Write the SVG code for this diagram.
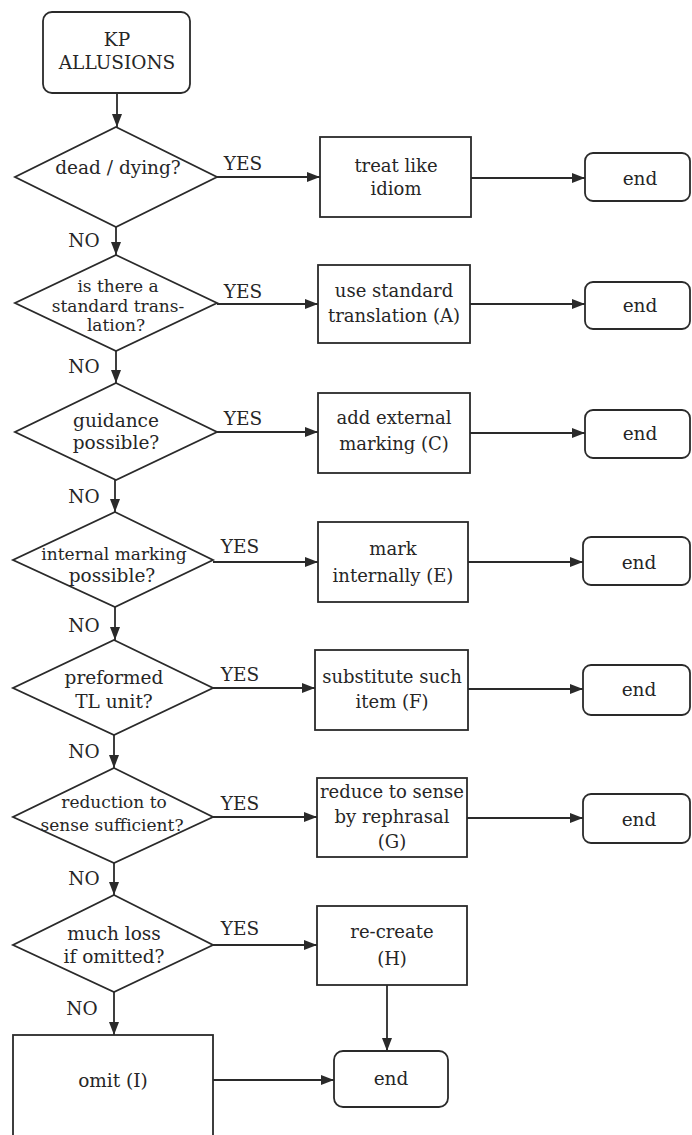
<svg xmlns="http://www.w3.org/2000/svg" width="692" height="1135" viewBox="0 0 692 1135">
<style>
.s{fill:#fff;stroke:#2a2a2a;stroke-width:1.8}
.c{fill:none;stroke:#2a2a2a;stroke-width:1.8}
text{font-family:"DejaVu Serif","Liberation Serif",serif;font-size:18.5px;fill:#262626;text-anchor:middle}
.sm{font-size:17px}
.bx{font-size:18px}
</style>
<defs>
<marker id="ah" markerUnits="userSpaceOnUse" markerWidth="13" markerHeight="10" refX="13" refY="5" orient="auto">
<path d="M0,0 L13,5 L0,10 z" fill="#2a2a2a"/>
</marker>
</defs>
<rect width="692" height="1135" fill="#fff"/>
<g id="connectors">
<line class="c" x1="117" y1="93" x2="117" y2="127" marker-end="url(#ah)"/>
<line class="c" x1="217" y1="177" x2="320" y2="177" marker-end="url(#ah)"/>
<line class="c" x1="471" y1="178" x2="585" y2="178" marker-end="url(#ah)"/>
<line class="c" x1="116" y1="227" x2="116" y2="255" marker-end="url(#ah)"/>
<line class="c" x1="217" y1="304" x2="318" y2="304" marker-end="url(#ah)"/>
<line class="c" x1="470" y1="304" x2="585" y2="304" marker-end="url(#ah)"/>
<line class="c" x1="116" y1="351" x2="116" y2="383" marker-end="url(#ah)"/>
<line class="c" x1="217" y1="432" x2="318" y2="432" marker-end="url(#ah)"/>
<line class="c" x1="470" y1="433" x2="585" y2="433" marker-end="url(#ah)"/>
<line class="c" x1="115" y1="480" x2="115" y2="512" marker-end="url(#ah)"/>
<line class="c" x1="213" y1="562" x2="318" y2="562" marker-end="url(#ah)"/>
<line class="c" x1="468" y1="562" x2="583" y2="562" marker-end="url(#ah)"/>
<line class="c" x1="115" y1="607" x2="115" y2="640" marker-end="url(#ah)"/>
<line class="c" x1="213" y1="688" x2="315" y2="688" marker-end="url(#ah)"/>
<line class="c" x1="468" y1="689" x2="583" y2="689" marker-end="url(#ah)"/>
<line class="c" x1="114" y1="735" x2="114" y2="768" marker-end="url(#ah)"/>
<line class="c" x1="213" y1="817" x2="317" y2="817" marker-end="url(#ah)"/>
<line class="c" x1="467" y1="818" x2="583" y2="818" marker-end="url(#ah)"/>
<line class="c" x1="114" y1="863" x2="114" y2="895" marker-end="url(#ah)"/>
<line class="c" x1="213" y1="945" x2="317" y2="945" marker-end="url(#ah)"/>
<line class="c" x1="387" y1="985" x2="387" y2="1051" marker-end="url(#ah)"/>
<line class="c" x1="114" y1="992" x2="114" y2="1035" marker-end="url(#ah)"/>
<line class="c" x1="213" y1="1080" x2="334" y2="1080" marker-end="url(#ah)"/>
<text x="243" y="170">YES</text>
<text x="84" y="247">NO</text>
<text x="243" y="298">YES</text>
<text x="84" y="373">NO</text>
<text x="243" y="425">YES</text>
<text x="84" y="503">NO</text>
<text x="240" y="553">YES</text>
<text x="84" y="632">NO</text>
<text x="240" y="681">YES</text>
<text x="84" y="758">NO</text>
<text x="240" y="810">YES</text>
<text x="84" y="885">NO</text>
<text x="240" y="935">YES</text>
<text x="82" y="1015">NO</text>
</g>
<g id="start">
<rect class="s" x="43" y="12" width="147" height="81" rx="9"/>
<text x="117" y="46">KP</text>
<text x="117" y="69">ALLUSIONS</text>
</g>
<g id="d1">
<polygon class="s" points="116,127 217,177 116,227 15,177"/>
<text x="118" y="174">dead / dying?</text>
</g>
<g id="d2">
<polygon class="s" points="116,255 217,303 116,351 15,303"/>
<text class="sm" x="118" y="292">is there a</text>
<text class="sm" x="118" y="312">standard trans-</text>
<text class="sm" x="116" y="331">lation?</text>
</g>
<g id="d3">
<polygon class="s" points="116,383 217,432 116,480 15,432"/>
<text x="116" y="427">guidance</text>
<text x="116" y="449">possible?</text>
</g>
<g id="d4">
<polygon class="s" points="115,512 213,560 115,607 13,560"/>
<text class="sm" x="114" y="560">internal marking</text>
<text x="112" y="582">possible?</text>
</g>
<g id="d5">
<polygon class="s" points="114,640 213,688 114,735 13,688"/>
<text x="114" y="684">preformed</text>
<text x="114" y="708">TL unit?</text>
</g>
<g id="d6">
<polygon class="s" points="114,768 213,817 114,863 13,817"/>
<text class="sm" x="114" y="808">reduction to</text>
<text class="sm" x="112" y="831">sense sufficient?</text>
</g>
<g id="d7">
<polygon class="s" points="114,895 213,945 114,992 13,945"/>
<text x="114" y="940">much loss</text>
<text x="114" y="963">if omitted?</text>
</g>
<g id="b1">
<rect class="s" x="320" y="137" width="151" height="80"/>
<text class="bx" x="396" y="172">treat like</text>
<text class="bx" x="396" y="195">idiom</text>
</g>
<g id="b2">
<rect class="s" x="318" y="265" width="152" height="78"/>
<text class="bx" x="394" y="297">use standard</text>
<text class="bx" x="394" y="322">translation (A)</text>
</g>
<g id="b3">
<rect class="s" x="318" y="393" width="152" height="80"/>
<text class="bx" x="394" y="424">add external</text>
<text class="bx" x="394" y="450">marking (C)</text>
</g>
<g id="b4">
<rect class="s" x="318" y="522" width="150" height="80"/>
<text class="bx" x="393" y="555">mark</text>
<text class="bx" x="393" y="582">internally (E)</text>
</g>
<g id="b5">
<rect class="s" x="315" y="650" width="153" height="80"/>
<text class="bx" x="392" y="683">substitute such</text>
<text class="bx" x="392" y="708">item (F)</text>
</g>
<g id="b6">
<rect class="s" x="317" y="778" width="150" height="79"/>
<text class="bx" x="392" y="798">reduce to sense</text>
<text class="bx" x="392" y="823">by rephrasal</text>
<text class="bx" x="392" y="848">(G)</text>
</g>
<g id="b7">
<rect class="s" x="317" y="906" width="150" height="79"/>
<text class="bx" x="392" y="938">re-create</text>
<text class="bx" x="392" y="965">(H)</text>
</g>
<g id="omit">
<rect class="s" x="13" y="1035" width="200" height="105"/>
<text x="113" y="1087">omit (I)</text>
</g>
<g id="e1"><rect class="s" x="585" y="153" width="105" height="48" rx="8"/><text x="640" y="185">end</text></g>
<g id="e2"><rect class="s" x="585" y="282" width="105" height="47" rx="8"/><text x="640" y="312">end</text></g>
<g id="e3"><rect class="s" x="585" y="410" width="105" height="48" rx="8"/><text x="640" y="440">end</text></g>
<g id="e4"><rect class="s" x="583" y="537" width="107" height="48" rx="8"/><text x="639" y="569">end</text></g>
<g id="e5"><rect class="s" x="583" y="665" width="107" height="50" rx="8"/><text x="639" y="696">end</text></g>
<g id="e6"><rect class="s" x="583" y="794" width="107" height="49" rx="8"/><text x="639" y="826">end</text></g>
<g id="e7"><rect class="s" x="334" y="1051" width="114" height="56" rx="9"/><text x="391" y="1085">end</text></g>
</svg>
